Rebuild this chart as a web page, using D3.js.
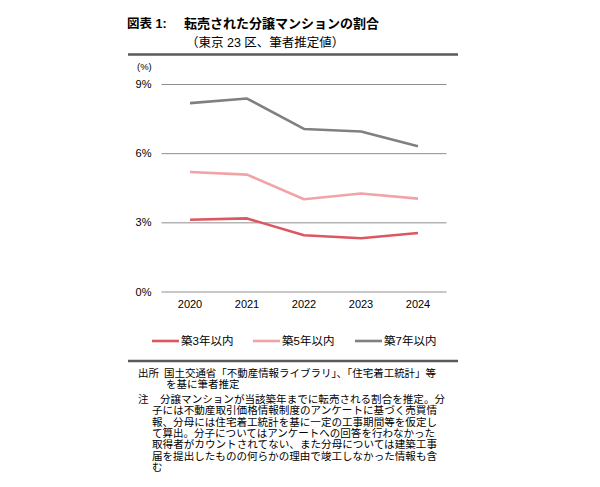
<!DOCTYPE html>
<html>
<head>
<meta charset="utf-8">
<script src="https://cdn.jsdelivr.net/npm/d3@7"></script>
<style>
  body { margin: 0; background: #fff; }
  text { font-family: "Liberation Sans", "Noto Sans CJK JP", sans-serif; fill: #000; }
</style>
</head>
<body>
<svg id="chart" width="600" height="487"></svg>
<script>
// chart values (percent)
const years = ["2020", "2021", "2022", "2023", "2024"];
const within3 = [3.11, 3.17, 2.44, 2.31, 2.54];
const within5 = [5.18, 5.07, 4.0, 4.25, 4.03];
const within7 = [8.17, 8.37, 7.05, 6.94, 6.3];
const yTicks = [0, 3, 6, 9];

const seriesNames = ["築3年以内", "築5年以内", "築7年以内"];
const seriesColors = ["#dc5860", "#f0a4a8", "#808080"];
const seriesValues = [within3, within5, within7];

const noteLines = [
  { head: "出所", text: "国土交通省「不動産情報ライブラリ」、「住宅着工統計」等", x: 164, y: 377, w: 272 },
  { text: "を基に筆者推定", x: 166, y: 388 },
  { head: "注", text: "分譲マンションが当該築年までに転売される割合を推定。分", x: 160, y: 403, w: 285 },
  { text: "子には不動産取引価格情報制度のアンケートに基づく売買情", x: 152, y: 414.3, w: 285 },
  { text: "報、分母には住宅着工統計を基に一定の工事期間等を仮定し", x: 152, y: 425.6, w: 285 },
  { text: "て算出。分子についてはアンケートへの回答を行わなかった", x: 152, y: 436.9, w: 283 },
  { text: "取得者がカウントされてない、また分母については建築工事", x: 152, y: 448.2, w: 285 },
  { text: "届を提出したものの何らかの理由で竣工しなかった情報も含", x: 152, y: 459.5, w: 285 },
  { text: "む", x: 152, y: 470.8 }
];

const svg = d3.select("#chart");

// title block
svg.append("text").attr("x", 127).attr("y", 28)
  .attr("font-size", 12.5).attr("font-weight", "bold").text("図表 1:");
svg.append("text").attr("x", 184).attr("y", 28)
  .attr("font-size", 13).attr("font-weight", "bold").text("転売された分譲マンションの割合");
svg.append("text").attr("x", 186).attr("y", 47)
  .attr("font-size", 12.5).text("（東京 23 区、筆者推定値）");

const rule = (y) => svg.append("line")
  .attr("x1", 128).attr("x2", 458).attr("y1", y).attr("y2", y)
  .attr("stroke", "#5a5a5a").attr("stroke-width", 2.5);
rule(54.5);
rule(361);

const xScale = d3.scaleBand().domain(years).range([161.5, 446.5]).padding(0);
const yScale = d3.scaleLinear().domain([0, 9]).range([291.5, 84]);
const xc = (d) => xScale(d) + xScale.bandwidth() / 2;

// y axis with gridlines
const yAxisG = svg.append("g")
  .attr("transform", "translate(161.5,0)")
  .call(d3.axisLeft(yScale).tickValues(yTicks)
    .tickSize(-(446.5 - 161.5)).tickPadding(10)
    .tickFormat((d) => d + "%"));
yAxisG.select(".domain").remove();
yAxisG.selectAll(".tick line").attr("stroke", "#8f8f8f").attr("stroke-width", 1);
yAxisG.selectAll(".tick text").attr("font-size", 11).attr("fill", "#000");

svg.append("text").attr("x", 137).attr("y", 70)
  .attr("font-size", 9.5).text("(%)");

// x axis labels
const xAxisG = svg.append("g")
  .attr("transform", "translate(0,291.5)")
  .call(d3.axisBottom(xScale).tickSize(0).tickPadding(9));
xAxisG.select(".domain").remove();
xAxisG.selectAll(".tick text").attr("font-size", 11).attr("fill", "#000");

// lines
const line = d3.line().x((d, i) => xc(years[i])).y((d) => yScale(d));
svg.selectAll(".series")
  .data(seriesValues)
  .enter()
  .append("path")
  .attr("class", "series")
  .attr("d", line)
  .attr("fill", "none")
  .attr("stroke", (d, i) => seriesColors[i])
  .attr("stroke-width", 2.6)
  .attr("stroke-linejoin", "round");

// legend
const legendX = [152, 253, 355];
const lg = svg.selectAll(".legend")
  .data(seriesNames)
  .enter()
  .append("g")
  .attr("transform", (d, i) => `translate(${legendX[i]},341)`);
lg.append("line").attr("x1", 0).attr("x2", 27)
  .attr("stroke", (d, i) => seriesColors[i]).attr("stroke-width", 2.6);
lg.append("text").attr("x", 29).attr("y", 4.2)
  .attr("font-size", 11.5).text((d) => d);

// notes
const notes = svg.append("g").attr("font-size", 10.5);
noteLines.forEach((n) => {
  if (n.head) notes.append("text").attr("x", 138).attr("y", n.y).text(n.head);
  const t = notes.append("text").attr("x", n.x).attr("y", n.y).text(n.text);
  if (n.w) t.attr("textLength", n.w).attr("lengthAdjust", "spacingAndGlyphs");
});
</script>
</body>
</html>
